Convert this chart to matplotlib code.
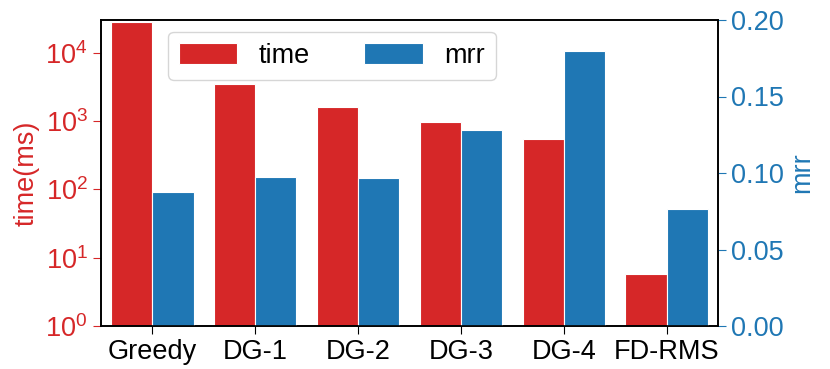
import matplotlib
matplotlib.use("Agg")
import matplotlib.pyplot as plt
import numpy as np
from matplotlib.ticker import NullLocator

# data
methods = ["Greedy", "DG-1", "DG-2", "DG-3", "DG-4", "FD-RMS"]
time_ms = [2.8e4, 3460, 1590, 970, 547, 5.8]
mrr = [0.0874, 0.0977, 0.097, 0.128, 0.1795, 0.0765]

RED = "#d62728"
BLUE = "#1f77b4"
FS = 19.5

plt.rcParams["font.family"] = ["Liberation Sans", "DejaVu Sans"]
plt.rcParams["mathtext.fontset"] = "custom"
plt.rcParams["mathtext.rm"] = "Liberation Sans"
plt.rcParams["mathtext.it"] = "Liberation Sans:italic"

fig = plt.figure(figsize=(8.3, 3.69), dpi=100)
ax = fig.add_axes([101 / 830, 43 / 369, 617 / 830, 306 / 369])
ax2 = ax.twinx()

x = np.arange(len(methods))
w = 0.4
b1 = ax.bar(x - w / 2, time_ms, w, color=RED, edgecolor="white", linewidth=0.8, label="time")
b2 = ax2.bar(x + w / 2, mrr, w, color=BLUE, edgecolor="white", linewidth=0.8, label="mrr")

ax.set_yscale("log")
ax.set_ylim(1, 3e4)
ax.yaxis.set_minor_locator(NullLocator())
ax.set_xlim(-0.5, 5.5)
ax2.set_ylim(0, 0.2)
ax2.set_yticks([0, 0.05, 0.1, 0.15, 0.2])

ax.set_xticks(x)
ax.set_xticklabels(methods, fontsize=FS)
ax.set_ylabel("time(ms)", color=RED, fontsize=FS)
ax2.set_ylabel("mrr", color=BLUE, fontsize=FS)
ax.tick_params(axis="y", colors=RED, labelsize=FS, length=6)
ax.tick_params(axis="x", labelsize=FS, length=6)
ax2.tick_params(axis="y", colors=BLUE, labelsize=FS, length=6)
for a in (ax, ax2):
    for s in a.spines.values():
        s.set_color("black")
        s.set_linewidth(1.2)

ax2.legend([b1, b2], ["time", "mrr"], ncol=2, fontsize=FS,
           loc="upper left", bbox_to_anchor=(0.109, 0.961), borderaxespad=0,
           handlelength=2.15, handleheight=0.8, columnspacing=2.0)

fig.savefig("out.png", dpi=100)
